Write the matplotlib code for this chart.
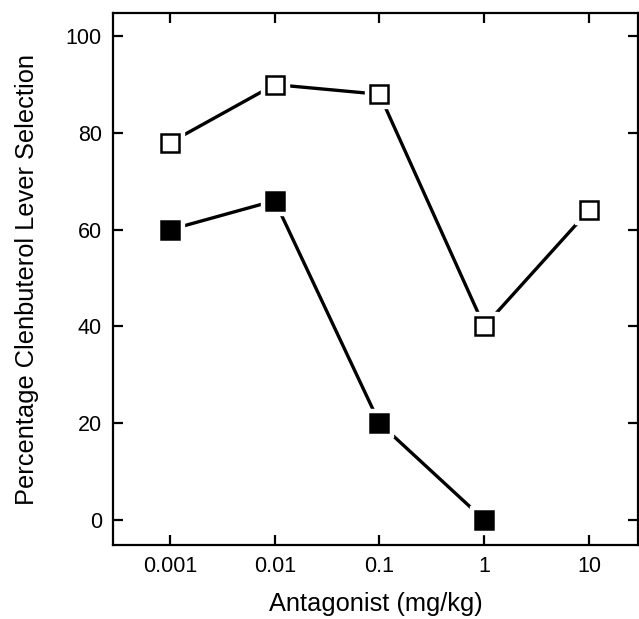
import matplotlib
matplotlib.use("Agg")
import matplotlib.pyplot as plt
import numpy as np

plt.rcParams['font.family'] = ['Liberation Sans', 'DejaVu Sans']

doses = [0.001, 0.01, 0.1, 1, 10]
open_vals = [78, 90, 88, 40, 64]
filled_doses = [0.001, 0.01, 0.1, 1]
filled_vals = [60, 66, 20, 0]
xtick_labels = ['0.001', '0.01', '0.1', '1', '10']
yticks = [0, 20, 40, 60, 80, 100]

fig = plt.figure(figsize=(6.39, 6.19), dpi=100)
ax = fig.add_axes([0.1768, 0.1195, 0.8216, 0.8595])
ax.set_xscale('log')
ax.set_xlim(10**-3.544, 10**1.468)
ax.set_ylim(-5.2, 104.8)

ms = 12.3
for xs, ys, fc in [(doses, open_vals, 'white'), (filled_doses, filled_vals, 'black')]:
    ax.plot(xs, ys, color='black', lw=2.4, zorder=1)
    ax.plot(xs, ys, ls='none', marker='s', ms=ms + 8, mfc='white', mec='white', zorder=2)
    ax.plot(xs, ys, ls='none', marker='s', ms=ms, mfc=fc, mec='black', mew=1.8, zorder=3)

ax.set_xticks(doses)
ax.set_xticklabels(xtick_labels)
ax.minorticks_off()
ax.set_yticks(yticks)
ax.tick_params(direction='in', length=7, width=1.6, labelsize=15.5, top=True, right=True, pad=8)
for s in ax.spines.values():
    s.set_linewidth(1.6)

ax.set_xlabel('Antagonist (mg/kg)', fontsize=18.3, labelpad=11)
ax.set_ylabel('Percentage Clenbuterol Lever Selection', fontsize=18.3, labelpad=19)

fig.savefig('out.png', dpi=100)
